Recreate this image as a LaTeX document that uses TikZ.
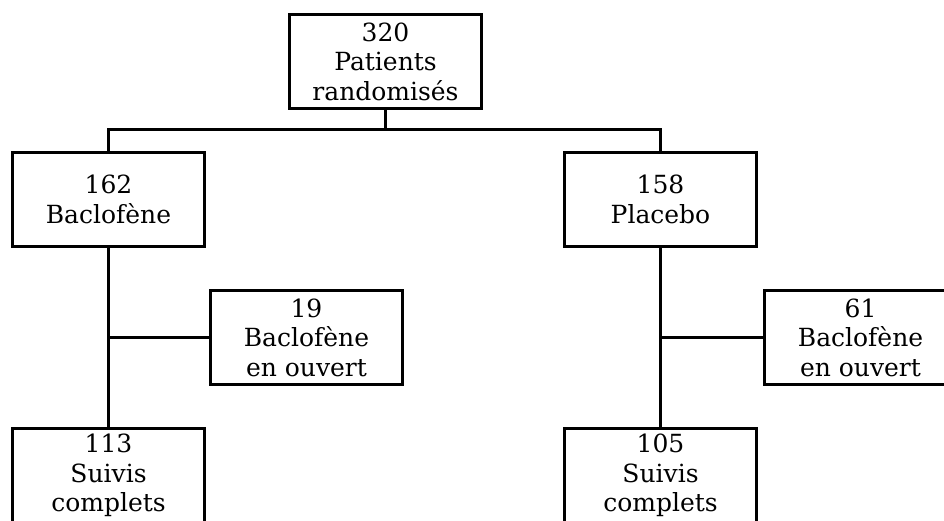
\documentclass[tikz,border=0pt]{standalone}
\usepackage{fontspec}
\setmainfont{DejaVu Serif}
\usepackage{tikz}

\begin{document}
\begin{tikzpicture}[x=1pt,y=-1pt,line width=3pt,
	box/.style={rectangle,draw=black,line width=2.8pt,minimum width=192,minimum height=94,align=center,inner sep=0,font=\fontsize{25}{29.5}\selectfont}]
	\clip (0,0) rectangle (944,520);	%page
	
	%TOP
	\node[box] (patients) at (385.5,61.5) {320\\Patients\\randomisés};
	\draw (patients.south)--++(0,20) coordinate (split);
	
	%LEFT
	\node[box] (baclo) at (108.5,199.5) {162\\Baclofène};
	\node[box] (ouvert1) at (306.5,337.5) {19\\Baclofène\\en ouvert};
	\node[box] (suivis1) at (108.5,475.5) {113\\Suivis\\complets};
	
	%RIGHT
	\node[box] (placebo) at (660.5,199.5) {158\\Placebo};
	\node[box] (ouvert2) at (860.5,337.5) {61\\Baclofène\\en ouvert};
	\node[box] (suivis2) at (660.5,475.5) {105\\Suivis\\complets};
	
	%connectors
	\draw (baclo.north) |- (split) -| (placebo.north);
	\draw (baclo.south)--(suivis1.north);
	\draw (placebo.south)--(suivis2.north);
	\draw (ouvert1.west)--(ouvert1.west -| baclo.south);
	\draw (ouvert2.west)--(ouvert2.west -| placebo.south);
\end{tikzpicture}
\end{document}
